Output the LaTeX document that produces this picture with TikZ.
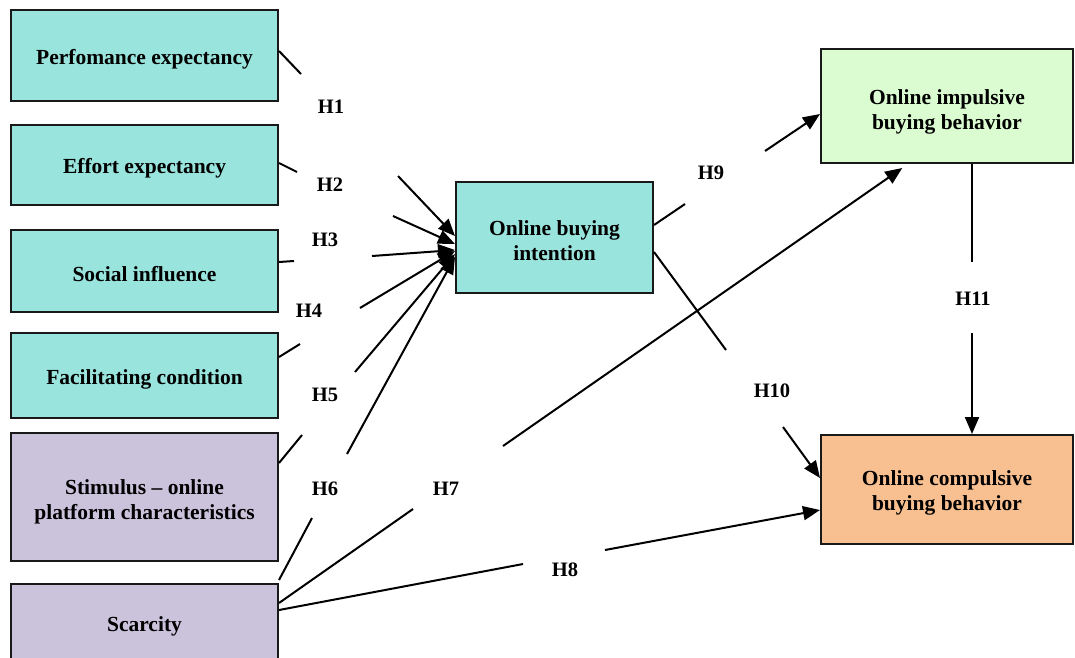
\documentclass[tikz,border=0pt]{standalone}
\usepackage{fontspec}
\setmainfont{Liberation Serif}
\usetikzlibrary{arrows.meta}
\definecolor{cyanbox}{RGB}{154,228,222}
\definecolor{greenbox}{RGB}{218,252,208}
\definecolor{orangebox}{RGB}{248,192,144}
\definecolor{lavbox}{RGB}{203,194,220}
\begin{document}
\begin{tikzpicture}[x=1pt,y=-1pt,
  box/.style={draw=black!90, line width=2pt, inner sep=0pt},
  boxtext/.style={align=center, inner sep=0pt, yshift=-3.5pt,
    font=\fontsize{21.5}{25}\selectfont\bfseries},
  conn/.style={line width=2pt, black},
  arr/.style={conn, -{Triangle[length=17pt,width=14pt]}},
  hlabel/.style={font=\fontsize{20.5}{24}\selectfont\bfseries, inner sep=0pt}]
\useasboundingbox (0,0) rectangle (1075,657);

% boxes
\node[box, fill=cyanbox, minimum width=267pt, minimum height=91pt,
  label={[boxtext]center:Perfomance expectancy}] (perf) at (144.5,55.5) {};
\node[box, fill=cyanbox, minimum width=267pt, minimum height=80pt,
  label={[boxtext]center:Effort expectancy}] (effort) at (144.5,165) {};
\node[box, fill=cyanbox, minimum width=267pt, minimum height=82pt,
  label={[boxtext]center:Social influence}] (social) at (144.5,271) {};
\node[box, fill=cyanbox, minimum width=267pt, minimum height=85pt,
  label={[boxtext]center:Facilitating condition}] (facil) at (144.5,375.5) {};
\node[box, fill=lavbox, minimum width=267pt, minimum height=128pt,
  label={[boxtext, yshift=-1.5pt]center:Stimulus -- online\\platform characteristics}] (stim) at (144.5,497) {};
\node[box, fill=lavbox, minimum width=267pt, minimum height=78pt,
  label={[boxtext]center:Scarcity}] (scar) at (144.5,623) {};
\node[box, fill=cyanbox, minimum width=197pt, minimum height=111pt,
  label={[boxtext]center:Online buying\\intention}] (obi) at (554.5,237.5) {};
\node[box, fill=greenbox, minimum width=252pt, minimum height=114pt,
  label={[boxtext, yshift=-2.5pt]center:Online impulsive\\buying behavior}] (imp) at (947,106) {};
\node[box, fill=orangebox, minimum width=252pt, minimum height=109pt,
  label={[boxtext]center:Online compulsive\\buying behavior}] (comp) at (947,489.5) {};

% gap ends of the connectors
\coordinate (g1a) at (301,74);  \coordinate (g1b) at (398,176);
\coordinate (g2a) at (297,172); \coordinate (g2b) at (393,216);
\coordinate (g3a) at (294,261); \coordinate (g3b) at (372,256);
\coordinate (g4a) at (300,344); \coordinate (g4b) at (360,308);
\coordinate (g5a) at (302,435); \coordinate (g5b) at (355,372);
\coordinate (g6a) at (312,518); \coordinate (g6b) at (347,454);
\coordinate (g7a) at (413,509); \coordinate (g7b) at (503,446);
\coordinate (g8a) at (523,564); \coordinate (g8b) at (605,550);
\coordinate (g9a) at (685,204); \coordinate (g9b) at (765,151);
\coordinate (g10a) at (726,350); \coordinate (g10b) at (783,427);
\coordinate (g11a) at (972,262); \coordinate (g11b) at (972,333);

% connectors
\draw[conn] (perf.east |- 0,51) -- (g1a);
\draw[arr] (g1b) -- (obi.west |- 0,236);
\draw[conn] (effort.east |- 0,163) -- (g2a);
\draw[arr] (g2b) -- (obi.west |- 0,244);
\draw[conn] (social.east |- 0,262) -- (g3a);
\draw[arr] (g3b) -- (obi.west |- 0,250);
\draw[conn] (facil.east |- 0,357) -- (g4a);
\draw[arr] (g4b) -- (obi.west |- 0,251);
\draw[conn] (stim.east |- 0,463) -- (g5a);
\draw[arr] (g5b) -- (obi.west |- 0,254);
\draw[conn] (scar.east |- 0,580) -- (g6a);
\draw[arr] (g6b) -- (obi.west |- 0,257);
\draw[conn] (scar.east |- 0,603) -- (g7a);
\draw[arr, shorten >=7pt] (g7b) -- (imp.south -| 908,0);
\draw[conn] (scar.east |- 0,610) -- (g8a);
\draw[arr] (g8b) -- (comp.west |- 0,510);
\draw[conn] (obi.east |- 0,225) -- (g9a);
\draw[arr] (g9b) -- (imp.west |- 0,114);
\draw[conn] (obi.east |- 0,252) -- (g10a);
\draw[arr] (g10b) -- (comp.west |- 0,478);
\draw[conn] (imp.south -| 972,0) -- (g11a);
\draw[arr] (g11b) -- (comp.north -| 972,0);

% labels
\node[hlabel] (h1) at (331,107) {H1};
\node[hlabel] (h2) at (330,185) {H2};
\node[hlabel] (h3) at (325,240) {H3};
\node[hlabel] (h4) at (309,311) {H4};
\node[hlabel] (h5) at (325,395) {H5};
\node[hlabel] (h6) at (325,489) {H6};
\node[hlabel] (h7) at (446,489) {H7};
\node[hlabel] (h8) at (565,570) {H8};
\node[hlabel] (h9) at (711,173) {H9};
\node[hlabel] (h10) at (772,391) {H10};
\node[hlabel] (h11) at (973,299) {H11};
\end{tikzpicture}
\end{document}
